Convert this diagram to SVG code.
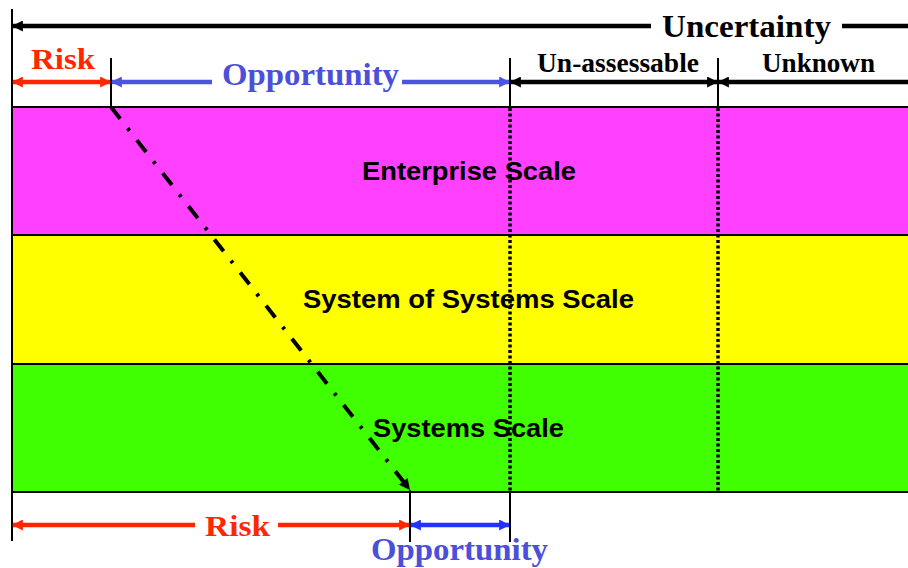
<svg xmlns="http://www.w3.org/2000/svg" width="908" height="568" viewBox="0 0 908 568">
<style>
.band{stroke:#000;stroke-width:2}
.scale{font-family:"Liberation Sans",Arial,sans-serif;font-weight:bold;font-size:26px;fill:#000;text-anchor:start}
.lbl{font-family:"Liberation Serif","Times New Roman",serif;font-weight:bold;text-anchor:start}
.vl{stroke:#000;stroke-width:2;fill:none}
.dot{stroke:#000;stroke-width:3.5;stroke-dasharray:3 2.5;fill:none}
.red{stroke:#FF2600;stroke-width:4.5;fill:none}
.blue1{stroke:#4B55E0;stroke-width:4.5;fill:none}
.blue2{stroke:#2233FF;stroke-width:4.5;fill:none}
.blk{stroke:#000;stroke-width:4.5;fill:none}
</style>
<defs>
<marker id="mRed" viewBox="0 0 10 10" refX="9" refY="5" markerUnits="userSpaceOnUse" markerWidth="12" markerHeight="11" orient="auto-start-reverse"><path d="M0,0 L10,5 L0,10 z" fill="#FF2600"/></marker>
<marker id="mBlue1" viewBox="0 0 10 10" refX="9" refY="5" markerUnits="userSpaceOnUse" markerWidth="12" markerHeight="11" orient="auto-start-reverse"><path d="M0,0 L10,5 L0,10 z" fill="#4B55E0"/></marker>
<marker id="mBlue2" viewBox="0 0 10 10" refX="9" refY="5" markerUnits="userSpaceOnUse" markerWidth="12" markerHeight="11" orient="auto-start-reverse"><path d="M0,0 L10,5 L0,10 z" fill="#2233FF"/></marker>
<marker id="mBlk" viewBox="0 0 10 10" refX="9" refY="5" markerUnits="userSpaceOnUse" markerWidth="12" markerHeight="11" orient="auto-start-reverse"><path d="M0,0 L10,5 L0,10 z" fill="#000"/></marker>
<marker id="mDiag" viewBox="0 0 10 10" refX="10" refY="5" markerUnits="userSpaceOnUse" markerWidth="12" markerHeight="11" orient="auto"><path d="M0,0 L10,5 L0,10 z" fill="#000"/></marker>
</defs>
<rect width="908" height="568" fill="#fff"/>

<g id="band-enterprise">
<rect x="12" y="107" width="896" height="128" fill="#FF40FF"/>
<text class="scale" x="362" y="180" textLength="214" lengthAdjust="spacingAndGlyphs">Enterprise Scale</text>
</g>
<g id="band-sos">
<rect x="12" y="235" width="896" height="129" fill="#FFFF00"/>
<text class="scale" x="303" y="308" textLength="331" lengthAdjust="spacingAndGlyphs">System of Systems Scale</text>
</g>
<g id="band-systems">
<rect x="12" y="364" width="896" height="128" fill="#40FF00"/>
<text class="scale" x="373" y="437" textLength="191" lengthAdjust="spacingAndGlyphs">Systems Scale</text>
</g>
<g id="band-borders">
<line class="band" x1="12" y1="107" x2="908" y2="107"/>
<line class="band" x1="12" y1="235" x2="908" y2="235"/>
<line class="band" x1="12" y1="364" x2="908" y2="364"/>
<line class="band" x1="12" y1="492" x2="908" y2="492"/>
</g>

<g id="connectors">
<line class="vl" x1="12" y1="9" x2="12" y2="541"/>
<line class="vl" x1="111" y1="58" x2="111" y2="107"/>
<line class="vl" x1="510" y1="58" x2="510" y2="107"/>
<line class="vl" x1="718" y1="58" x2="718" y2="107"/>
<line class="dot" x1="510" y1="108" x2="510" y2="492"/>
<line class="dot" x1="718" y1="108" x2="718" y2="492"/>
<line class="vl" x1="510" y1="492" x2="510" y2="542"/>
<line class="vl" x1="410" y1="490" x2="410" y2="542"/>

<path class="blk" d="M13,26 L651,26" marker-start="url(#mBlk)"/>
<path class="blk" d="M842,26 L908,26"/>

<path class="red" d="M13,82 L110,82" marker-start="url(#mRed)" marker-end="url(#mRed)"/>
<path class="blue1" d="M112,82 L212,82" marker-start="url(#mBlue1)"/>
<path class="blue1" d="M402,82 L509,82" marker-end="url(#mBlue1)"/>
<path class="blk" d="M511,82 L717,82" marker-start="url(#mBlk)" marker-end="url(#mBlk)"/>
<path class="blk" d="M719,82 L908,82" marker-start="url(#mBlk)"/>

<path d="M111,107 L410,490" stroke="#000" stroke-width="4" fill="none" stroke-dasharray="15 12 3 12" marker-end="url(#mDiag)"/>

<path class="red" d="M13,525 L195,525" marker-start="url(#mRed)"/>
<path class="red" d="M278,525 L409,525" marker-end="url(#mRed)"/>
<path class="blue2" d="M411,525 L509,525" marker-start="url(#mBlue2)" marker-end="url(#mBlue2)"/>
</g>

<g id="labels">
<text class="lbl" x="662" y="37" font-size="32" fill="#000" textLength="169" lengthAdjust="spacingAndGlyphs">Uncertainty</text>
<text class="lbl" x="31" y="69" font-size="30" fill="#FF2600" textLength="64" lengthAdjust="spacingAndGlyphs">Risk</text>
<text class="lbl" x="222" y="85" font-size="32" fill="#4B4FD9" textLength="177" lengthAdjust="spacingAndGlyphs">Opportunity</text>
<text class="lbl" x="537" y="72" font-size="27" fill="#000" textLength="162" lengthAdjust="spacingAndGlyphs">Un-assessable</text>
<text class="lbl" x="762" y="72" font-size="27" fill="#000" textLength="113" lengthAdjust="spacingAndGlyphs">Unknown</text>
<text class="lbl" x="205" y="536" font-size="30" fill="#FF2600" textLength="65" lengthAdjust="spacingAndGlyphs">Risk</text>
<text class="lbl" x="371" y="560" font-size="32" fill="#4B4FD9" textLength="177" lengthAdjust="spacingAndGlyphs">Opportunity</text>
</g>
</svg>
